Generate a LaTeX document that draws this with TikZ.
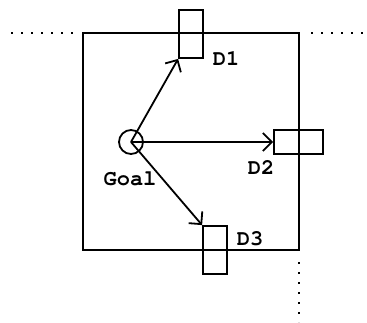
\documentclass[tikz,border=0pt]{standalone}
\usepackage[T1]{fontenc}
\usepackage{courier}
\usetikzlibrary{arrows.meta}

\tikzset{
  door/.style={draw,line width=1.8pt,inner sep=0pt,fill=none},
  label/.style={font=\fontsize{22}{24}\selectfont\ttfamily\bfseries,inner sep=0pt},
  path/.style={line width=1.8pt,-{Straight Barb[length=9pt,width=18pt,line width=1.8pt]}},
  border/.style={line width=2.2pt,dash pattern=on 2.2pt off 7.8pt}
}

\begin{document}
\begin{tikzpicture}[x=1pt,y=-1pt]
\useasboundingbox (0,0) rectangle (367,322);

% the room
\draw [line width=2pt] (83,33) rectangle (299,250);
\draw [border] (11,33) -- (76,33);
\draw [border] (311,33) -- (365,33);
\draw [border] (299,262) -- (299,322);

% doors
\node [door,minimum width=24pt,minimum height=48pt] (d1) at (191,34) {};
\node [door,minimum width=49pt,minimum height=24pt] (d2) at (298.5,142) {};
\node [door,minimum width=24pt,minimum height=48pt] (d3) at (215,250) {};

% goal
\node [draw,circle,line width=1.8pt,minimum size=24pt,inner sep=0pt] (goal) at (131,142) {};

\draw [path] (goal.center) -- (d1.south west);
\draw [path] (goal.center) -- (d2.west);
\draw [path] (goal.center) -- (d3.north west);

\node [label] (l1) at (226,59) {D1};
\node [label] (l2) at (261,168) {D2};
\node [label] (l3) at (250,239) {D3};
\node [label] (lg) at (130,179) {Goal};
\end{tikzpicture}
\end{document}
